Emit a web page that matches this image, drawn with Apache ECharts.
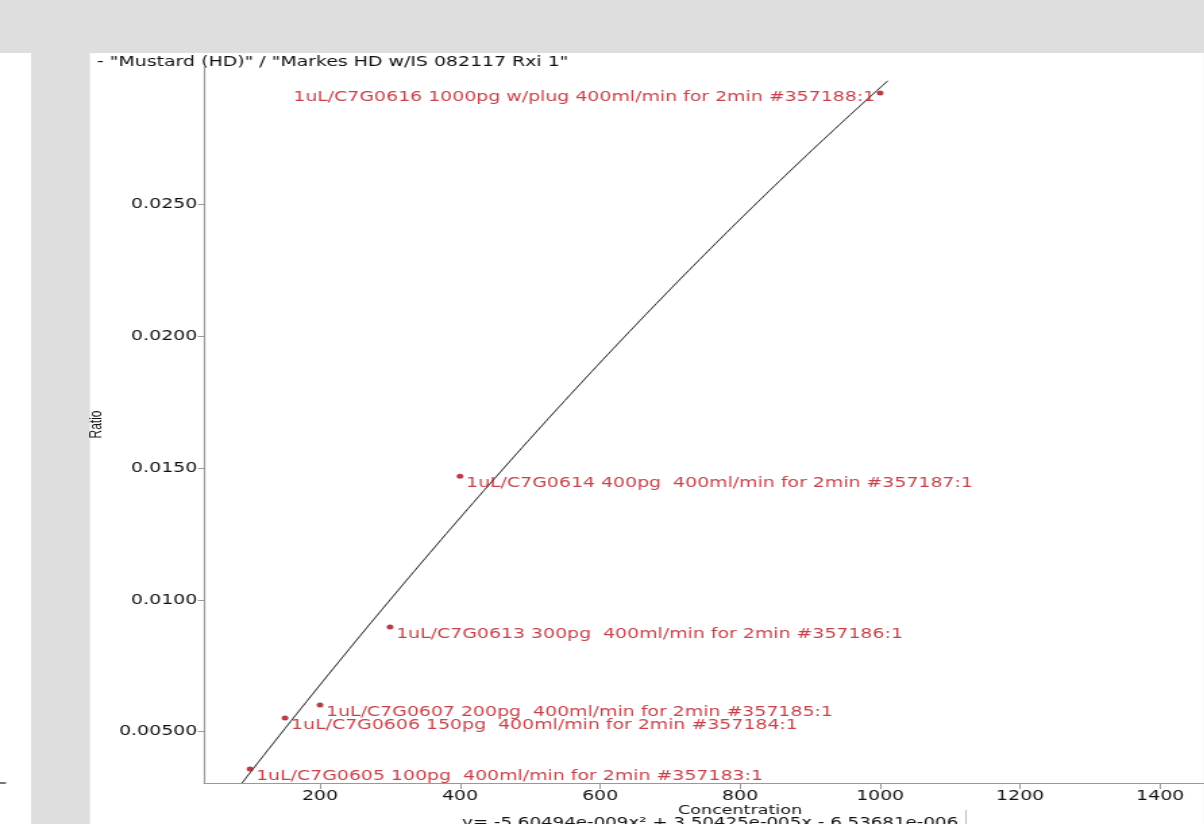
<!DOCTYPE html>
<html>
<head>
<meta charset="utf-8">
<style>
  html, body { margin: 0; padding: 0; background: #dedede; overflow: hidden; }
  #wrap { width: 1204px; height: 824px; overflow: hidden; }
  /* The plot is laid out narrow and widened horizontally, like the exported report image */
  #chart { height: 824px; transform-origin: 0 0; }
</style>
<script src="https://cdn.jsdelivr.net/npm/echarts@6/dist/echarts.min.js"></script>
</head>
<body>
<div id="wrap"><div id="chart"></div></div>
<script>
// Calibration standards: amount (pg) and measured area ratio
const concentrations = [100, 150, 200, 300, 400, 1000];
const ratios = [0.00359, 0.00552, 0.00601, 0.00897, 0.01469, 0.02923];
const sampleLabels = [
  '1uL/C7G0605 100pg  400ml/min for 2min #357183:1',
  '1uL/C7G0606 150pg  400ml/min for 2min #357184:1',
  '1uL/C7G0607 200pg  400ml/min for 2min #357185:1',
  '1uL/C7G0613 300pg  400ml/min for 2min #357186:1',
  '1uL/C7G0614 400pg  400ml/min for 2min #357187:1',
  '1uL/C7G0616 1000pg w/plug 400ml/min for 2min #357188:1'
];

// Quadratic calibration fit y = a*x^2 + b*x + c and the span it is drawn over
const fitCoefficients = [-5.60494e-9, 3.50425e-5, -6.53681e-6];
const fitRange = [88.6, 1011];

const xTicks = [200, 400, 600, 800, 1000, 1200, 1400];
const yTicks = [0.005, 0.010, 0.015, 0.020, 0.025];
const yTickLabels = ['0.00500', '0.0100', '0.0150', '0.0200', '0.0250'];

const titleText = '- "Mustard (HD)" / "Markes HD w/IS 082117 Rxi 1"';
const xAxisTitle = 'Concentration';
const yAxisTitle = 'Ratio';
const equationText = 'y= -5.60494e-009x\u00b2 + 3.50425e-005x - 6.53681e-006';

// horizontal widening factor applied to the whole canvas
const SX = 1.35;
const W = 1204 / SX;
const px = v => v / SX;   // page x -> layout x

const el = document.getElementById('chart');
el.style.width = W + 'px';
el.style.transform = 'scaleX(' + SX + ')';

const fitCurve = [];
for (let i = 0; i <= 120; i++) {
  const x = fitRange[0] + (fitRange[1] - fitRange[0]) * i / 120;
  const [a, b, c] = fitCoefficients;
  fitCurve.push([x, a * x * x + b * x + c]);
}

const points = concentrations.map((x, i) => {
  const right = x < 1000;
  return {
    value: [x, ratios[i]],
    label: {
      show: true,
      formatter: sampleLabels[i],
      position: right ? 'right' : 'left',
      distance: right ? 2 : 1.2,
      offset: right ? [0, 7] : [0, 4]
    }
  };
});

const font = '"DejaVu Sans", Verdana, sans-serif';
const chart = echarts.init(el, null, { renderer: 'canvas' });

chart.setOption({
  backgroundColor: '#dedede',
  animation: false,
  grid: { left: px(204), top: 66, right: 0, bottom: 41, containLabel: false },
  graphic: [
    { type: 'rect', z: -10, shape: { x: 0, y: 53, width: px(31), height: 771 }, style: { fill: '#ffffff' } },
    { type: 'rect', z: -10, shape: { x: px(90), y: 53, width: px(1114), height: 771 }, style: { fill: '#ffffff' } },
    { type: 'rect', z: -9, shape: { x: 0, y: 782, width: px(6), height: 2 }, style: { fill: '#777' } },
    { type: 'text', left: px(97), top: 55, style: { text: titleText, font: '14px ' + font, fill: '#111' } },
    { type: 'text', x: px(740), y: 804, style: { text: xAxisTitle, font: '13px ' + font, fill: '#111', textAlign: 'center' } },
    { type: 'text', left: px(462), top: 816, style: { text: equationText, font: '13.5px ' + font, fill: '#111' } },
    { type: 'line', shape: { x1: px(966), y1: 810, x2: px(966), y2: 824 }, style: { stroke: '#bbb', lineWidth: 1 } }
  ],
  xAxis: {
    type: 'value',
    min: 34.29,
    max: 1462.86,
    splitLine: { show: false },
    axisLine: { lineStyle: { color: '#999', width: 1.2 } },
    axisTick: { show: true, length: 6, lineStyle: { color: '#999' }, customValues: xTicks },
    axisLabel: { color: '#111', fontSize: 14, fontFamily: font, margin: 6, customValues: xTicks, formatter: v => String(v) }
  },
  yAxis: {
    type: 'value',
    min: 0.003055,
    max: 0.030254,
    name: yAxisTitle,
    nameLocation: 'middle',
    nameRotate: 90,
    nameGap: 68,
    nameTextStyle: { color: '#111', fontSize: 12, fontFamily: '"Liberation Sans", Arial, sans-serif' },
    splitLine: { show: false },
    axisLine: { show: true, lineStyle: { color: '#999', width: 1.2 } },
    axisTick: { show: true, length: 4.5, lineStyle: { color: '#999' }, customValues: yTicks },
    axisLabel: {
      color: '#111', fontSize: 14, fontFamily: font, margin: 5,
      customValues: yTicks,
      formatter: v => {
        const i = yTicks.findIndex(t => Math.abs(t - v) < 1e-9);
        return i >= 0 ? yTickLabels[i] : '';
      }
    }
  },
  series: [
    {
      type: 'line',
      data: fitCurve,
      showSymbol: false,
      lineStyle: { color: '#222', width: 1 },
      silent: true,
      z: 2
    },
    {
      type: 'scatter',
      data: points,
      symbol: 'circle',
      symbolSize: 5,
      itemStyle: { color: '#a30f17' },
      label: { color: '#b8121c', fontSize: 14, fontFamily: font },
      z: 3
    }
  ]
});
</script>
</body>
</html>
